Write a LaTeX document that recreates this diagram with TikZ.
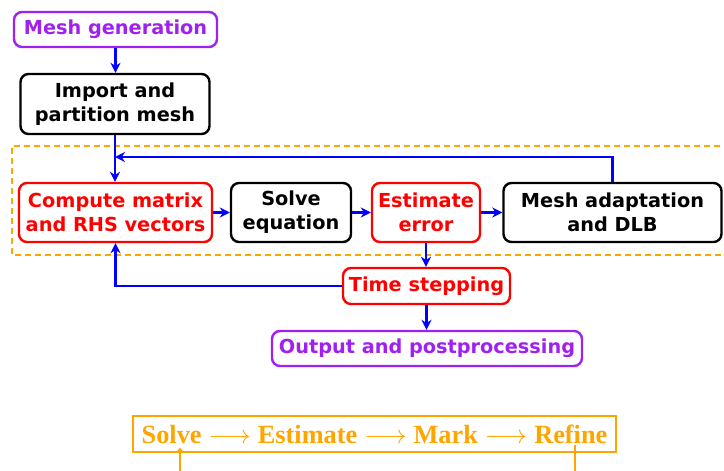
\RequirePackage{fix-cm}
\documentclass[tikz,border=0pt]{standalone}
\usepackage{fontspec}
\setmainfont{DejaVu Sans}
\newfontfamily\tnr{Liberation Serif}
\usetikzlibrary{arrows.meta}
\definecolor{mypurple}{RGB}{160,32,240}
\definecolor{myorange}{RGB}{255,165,0}
\tikzset{
  box/.style={draw, rounded corners=8pt, line width=2.4pt, align=center,
    font=\fontsize{19.3}{24}\selectfont\bfseries, inner sep=2pt},
  flow/.style={blue, line width=2.2pt, -{Stealth[length=10pt,width=10pt]}},
  semtext/.style={draw=myorange, line width=2.2pt, inner sep=0pt, text=myorange,
    font=\tnr\bfseries\fontsize{26.3}{30}\selectfont},
  semline/.style={myorange, line width=1.4pt},
  dashbox/.style={myorange, line width=2.4pt, dash pattern=on 6pt off 4pt},
}
\begin{document}
\begin{tikzpicture}[x=1pt,y=-1pt]
\useasboundingbox (0,0) rectangle (724,471);
\clip (0,0) rectangle (724,471);

\draw[dashbox] (730,146) -- (12,146) -- (12,255) -- (730,255);

\node[box, draw=mypurple, text=mypurple, minimum width=203pt, minimum height=35pt] (gen) at (115.5,29.5) {Mesh generation};
\node[box, minimum width=189pt, minimum height=60pt] (imp) at (115,104) {Import and\\partition mesh};
\node[box, draw=red, text=red, minimum width=193pt, minimum height=59pt] (comp) at (115.5,212.5) {Compute matrix\\and RHS vectors};
\node[box, minimum width=120pt, minimum height=59pt] (solve) at (291,212.5) {Solve\\equation};
\node[box, draw=red, text=red, minimum width=108pt, minimum height=59pt] (est) at (426,212.5) {Estimate\\error};
\node[box, minimum width=218pt, minimum height=59pt] (adapt) at (612.5,212.5) {Mesh adaptation\\and DLB};
\node[box, draw=red, text=red, minimum width=167pt, minimum height=36pt] (time) at (426.5,286) {Time stepping};
\node[box, draw=mypurple, text=mypurple, minimum width=310pt, minimum height=35pt] (out) at (427,348.5) {Output and postprocessing};

\coordinate (fb) at (115,157);
\draw[flow] (gen.south) -- (gen.south |- imp.north);
\draw[flow] (imp.south) -- (imp.south |- comp.north);
\draw[flow] (adapt.north) |- (fb);
\draw[flow] (comp) -- (solve);
\draw[flow] (solve) -- (est);
\draw[flow] (est) -- (adapt);
\draw[flow] (est.south) -- (est.south |- time.north);
\draw[flow] (time.west) -| (comp.south);
\draw[flow] (time.south) -- (time.south |- out.north);

\node[semtext, minimum width=483pt, minimum height=36pt] (sem) at (374.5,434)
  {Solve\hspace{7pt}$\longrightarrow$\hspace{7pt}Estimate\hspace{7pt}$\longrightarrow$\hspace{7pt}Mark\hspace{7pt}$\longrightarrow$\hspace{7pt}Refine};
\coordinate (solvein) at (180,448);
\coordinate (solvebot) at (180,471);
\coordinate (refout) at (575,445);
\coordinate (refbot) at (575,471);
\draw[semline, -{Computer Modern Rightarrow[length=5pt,width=11pt]}] (solvebot) -- (solvein);
\draw[semline] (refout) -- (refbot);
\end{tikzpicture}
\end{document}
